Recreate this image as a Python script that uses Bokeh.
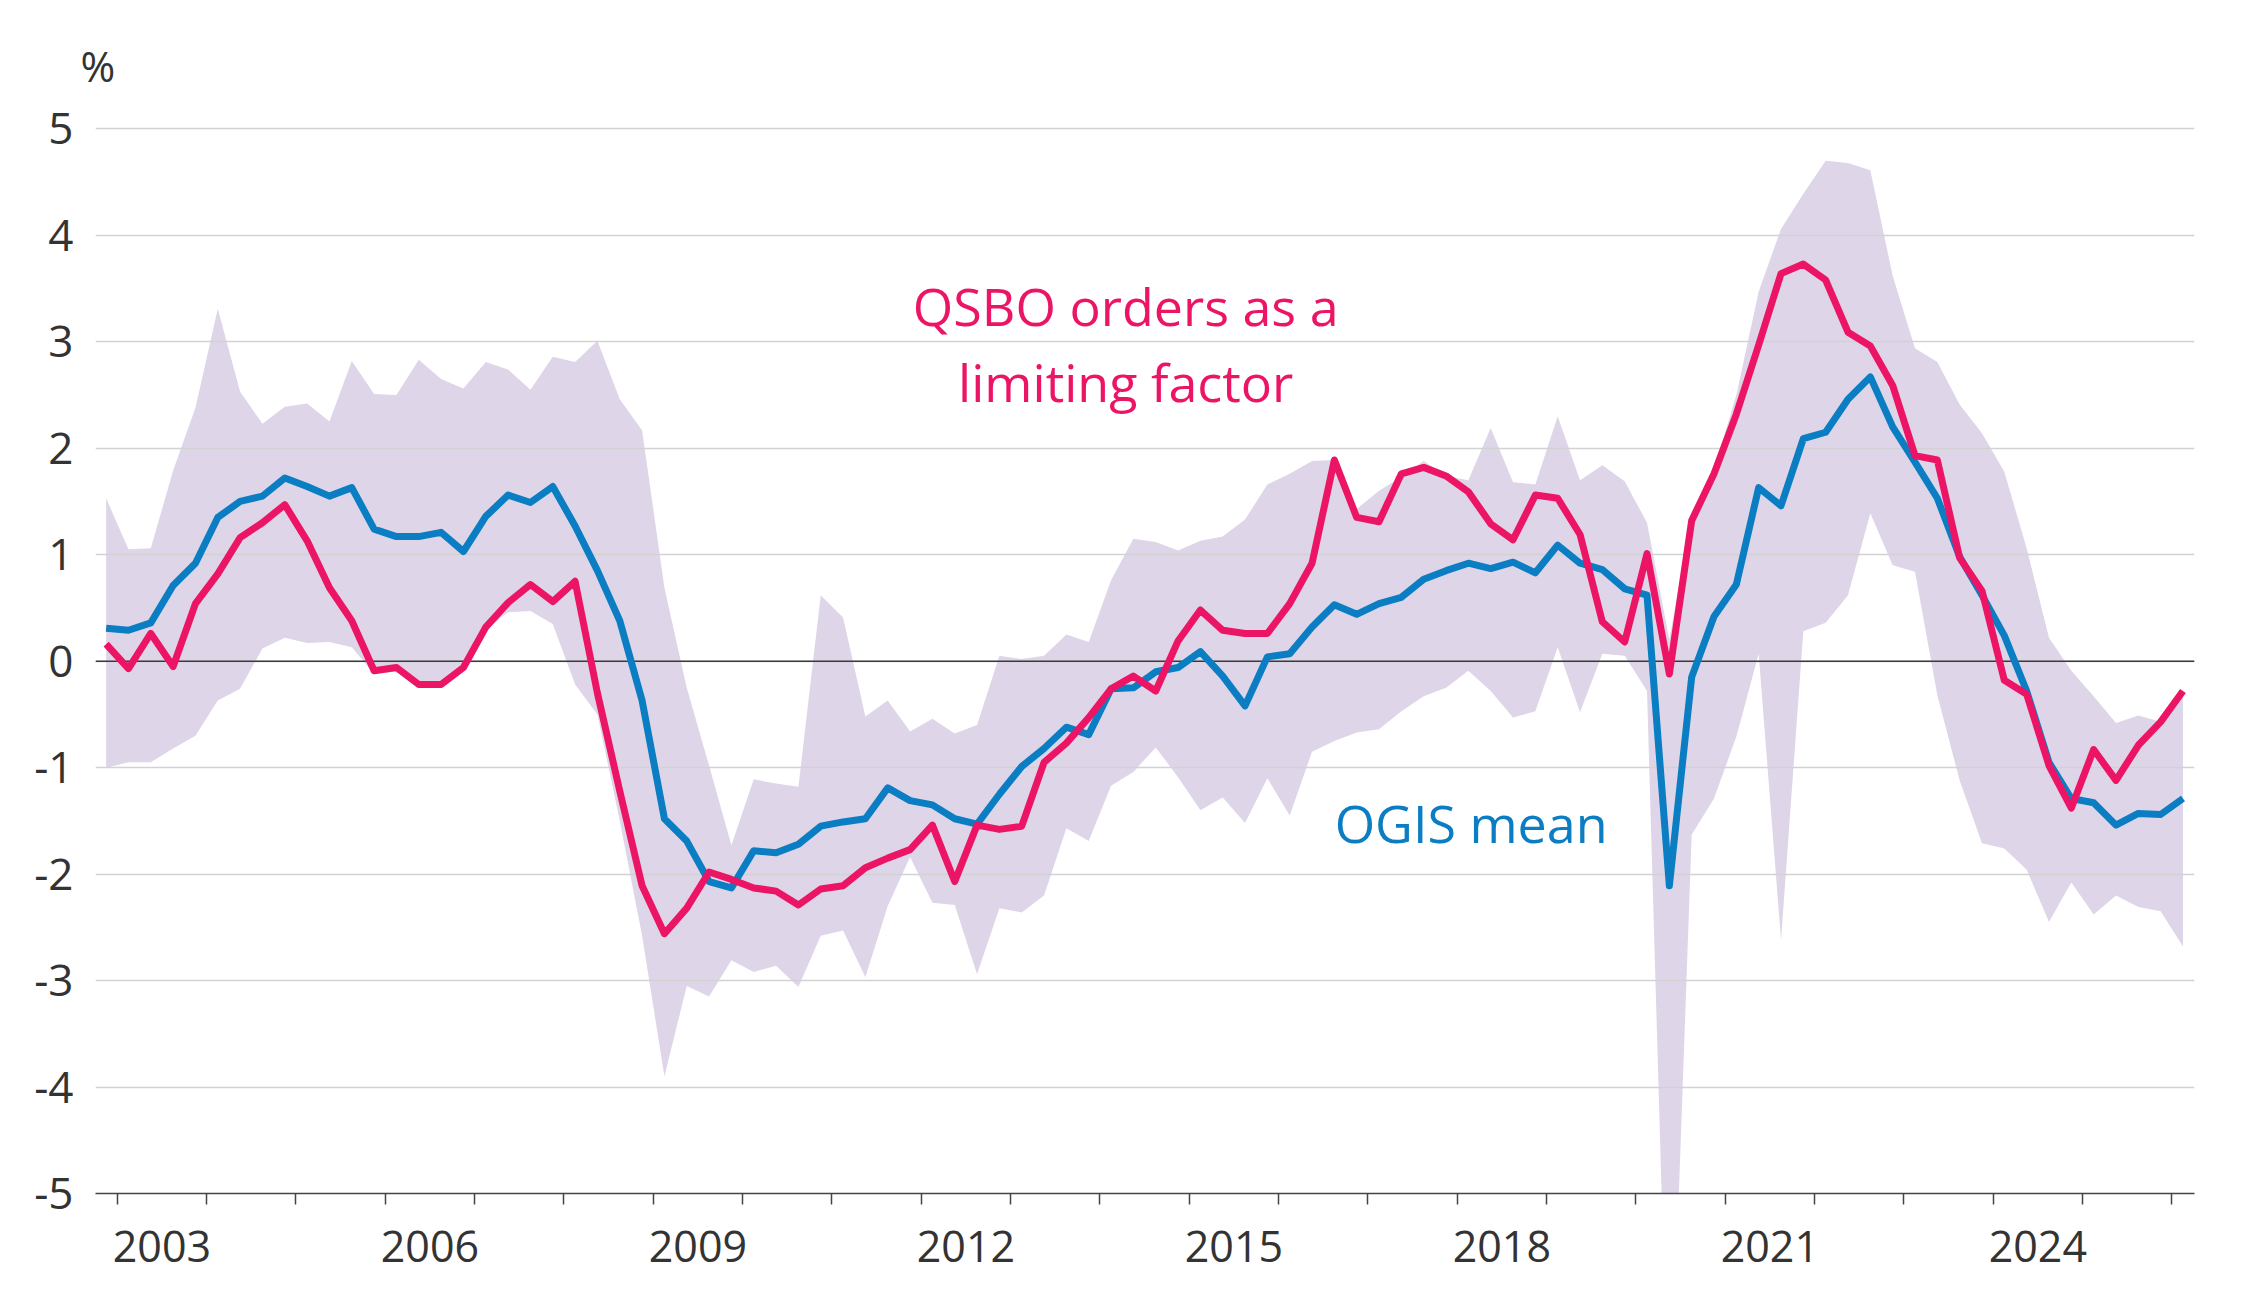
from bokeh.plotting import figure
from bokeh.models import FixedTicker, Range1d, Span
from bokeh.core.properties import value
from bokeh.embed import file_html
from bokeh.resources import INLINE

# Quarterly observations, 2002Q4 .. 2026Q1
quarters = ["2002Q4"] + [f"{y}Q{q}" for y in range(2003, 2026) for q in range(1, 5)] + ["2026Q1"]

band_high = [1.53, 1.05, 1.06, 1.79, 2.38, 3.31, 2.53, 2.23, 2.39, 2.42, 2.25, 2.82, 2.51, 2.50, 2.83, 2.65,
             2.56, 2.81, 2.74, 2.55, 2.86, 2.81, 3.01, 2.46, 2.17, 0.69, -0.25, -0.98, -1.73, -1.11, -1.15, -1.18,
             0.62, 0.41, -0.52, -0.37, -0.66, -0.54, -0.68, -0.60, 0.05, 0.02, 0.05, 0.25, 0.18, 0.76, 1.15, 1.12,
             1.04, 1.13, 1.17, 1.33, 1.66, 1.76, 1.88, 1.89, 1.43, 1.60, 1.73, 1.88, 1.74, 1.70, 2.19, 1.68,
             1.66, 2.30, 1.70, 1.84, 1.69, 1.30, 0.20, 1.40, 1.80, 2.50, 3.47, 4.06, 4.39, 4.70, 4.68, 4.61,
             3.62, 2.94, 2.81, 2.41, 2.14, 1.78, 1.06, 0.22, -0.09, -0.33, -0.58, -0.51, -0.57, -0.29]

band_low = [-1.00, -0.95, -0.95, -0.82, -0.70, -0.37, -0.26, 0.12, 0.22, 0.17, 0.18, 0.13, -0.12, -0.10, -0.25, -0.25,
            -0.08, 0.30, 0.46, 0.47, 0.35, -0.22, -0.50, -1.50, -2.58, -3.90, -3.05, -3.15, -2.81, -2.92, -2.86, -3.06,
            -2.58, -2.53, -2.97, -2.30, -1.84, -2.27, -2.29, -2.94, -2.32, -2.36, -2.20, -1.57, -1.69, -1.17, -1.04, -0.81,
            -1.09, -1.40, -1.28, -1.52, -1.10, -1.45, -0.85, -0.75, -0.67, -0.64, -0.47, -0.33, -0.25, -0.09, -0.28, -0.53,
            -0.47, 0.13, -0.48, 0.07, 0.05, -0.28, -7.50, -1.63, -1.29, -0.71, 0.07, -2.62, 0.28, 0.36, 0.62, 1.39,
            0.90, 0.84, -0.32, -1.12, -1.71, -1.76, -1.96, -2.45, -2.08, -2.38, -2.20, -2.31, -2.35, -2.68]

qsbo = [0.16, -0.07, 0.26, -0.05, 0.54, 0.82, 1.16, 1.30, 1.47, 1.13, 0.69, 0.38, -0.09, -0.06, -0.22, -0.22,
        -0.06, 0.32, 0.55, 0.72, 0.56, 0.75, -0.30, -1.22, -2.11, -2.56, -2.32, -1.98, -2.05, -2.13, -2.16, -2.29,
        -2.14, -2.11, -1.94, -1.85, -1.77, -1.54, -2.07, -1.54, -1.58, -1.55, -0.95, -0.77, -0.53, -0.26, -0.14, -0.28,
        0.19, 0.48, 0.29, 0.26, 0.26, 0.54, 0.92, 1.89, 1.35, 1.31, 1.76, 1.82, 1.74, 1.59, 1.29, 1.14,
        1.56, 1.53, 1.19, 0.37, 0.18, 1.01, -0.12, 1.32, 1.76, 2.32, 2.97, 3.64, 3.73, 3.58, 3.09, 2.96,
        2.59, 1.93, 1.89, 0.97, 0.66, -0.18, -0.31, -0.98, -1.38, -0.83, -1.12, -0.79, -0.57, -0.28]

ogis = [0.31, 0.29, 0.36, 0.71, 0.92, 1.35, 1.50, 1.55, 1.72, 1.64, 1.55, 1.63, 1.24, 1.17, 1.17, 1.21,
        1.03, 1.36, 1.56, 1.49, 1.64, 1.27, 0.85, 0.38, -0.37, -1.48, -1.69, -2.07, -2.13, -1.78, -1.80, -1.72,
        -1.55, -1.51, -1.48, -1.19, -1.31, -1.35, -1.48, -1.53, -1.25, -0.99, -0.82, -0.62, -0.69, -0.26, -0.25, -0.10,
        -0.06, 0.09, -0.14, -0.42, 0.04, 0.07, 0.32, 0.53, 0.44, 0.54, 0.60, 0.77, 0.85, 0.92, 0.87, 0.93,
        0.83, 1.09, 0.92, 0.86, 0.68, 0.62, -2.11, -0.15, 0.42, 0.72, 1.63, 1.46, 2.09, 2.15, 2.46, 2.67,
        2.20, 1.87, 1.53, 0.98, 0.62, 0.24, -0.28, -0.95, -1.29, -1.33, -1.54, -1.43, -1.44, -1.29]

year_ticks = list(range(2003, 2027))
label_years = [2003, 2006, 2009, 2012, 2015, 2018, 2021, 2024]
y_ticks = [-5, -4, -3, -2, -1, 0, 1, 2, 3, 4, 5]

x = [int(q[:4]) + (int(q[-1]) - 0.5) / 4 for q in quarters]

FONT = "Open Sans"
BLUE = "#0A7DC3"
PINK = "#EC1465"
BAND = "#DED6E8"
TXT = "#333333"

p = figure(width=2242, height=1310, output_backend="svg", toolbar_location=None,
           x_range=Range1d(2002.756, 2026.254), y_range=Range1d(-5, 5.05),
           min_border_left=95, min_border_right=48, min_border_top=123, min_border_bottom=117,
           title="%")
p.outline_line_color = None
p.background_fill_color = "white"
p.border_fill_color = "white"

# "%" unit marker as a left-aligned title
p.title.align = "left"
p.title.offset = -15
p.title.standoff = 60
p.title.text_font = FONT
p.title.text_font_size = "42px"
p.title.text_font_style = "normal"
p.title.text_color = TXT

# grid
p.xgrid.visible = False
p.ygrid.ticker = FixedTicker(ticks=[t for t in y_ticks if t != -5])
p.ygrid.grid_line_color = "#d2d2d2"
p.ygrid.grid_line_width = 1.5

# band
p.varea(x=x, y1=band_low, y2=band_high, fill_color=BAND, fill_alpha=1.0, level="image")

zero = Span(location=0, dimension="width", line_color="#3a3a3a", line_width=1.5, level="underlay")
p.add_layout(zero)

p.line(x, ogis, line_color=BLUE, line_width=7, line_join="round")
p.line(x, qsbo, line_color=PINK, line_width=7, line_join="round")

# axes
xa = p.xaxis[0]
xa.ticker = FixedTicker(ticks=[y + 0.5 for y in label_years], minor_ticks=year_ticks)
xa.major_label_overrides = {y + 0.5: str(y) for y in label_years}
xa.major_tick_out = 0
xa.major_tick_in = 0
xa.minor_tick_out = 11
xa.minor_tick_in = 0
xa.minor_tick_line_color = "#444444"
xa.minor_tick_line_width = 1.5
xa.axis_line_color = "#444444"
xa.axis_line_width = 1.5
xa.major_label_text_font = FONT
xa.major_label_text_font_size = "43px"
xa.major_label_text_color = TXT
xa.major_label_standoff = 26

ya = p.yaxis[0]
ya.ticker = FixedTicker(ticks=y_ticks)
ya.major_label_overrides = {t: str(t) for t in y_ticks}
ya.axis_line_color = None
ya.major_tick_line_color = None
ya.minor_tick_line_color = None
ya.major_label_text_font = FONT
ya.major_label_text_font_size = "44px"
ya.major_label_text_color = TXT
ya.major_label_standoff = 16

# annotations
p.text(x=[2014.289, 2014.289], y=[3.344, 2.63], text=["QSBO orders as a", "limiting factor"],
       text_font=value(FONT), text_font_size=value("52px"), text_color=PINK,
       text_align="center", text_baseline="alphabetic")
p.text(x=[2016.628], y=[-1.52], text=["OGIS mean"],
       text_font=value(FONT), text_font_size=value("52px"), text_color=BLUE,
       text_align="left", text_baseline="alphabetic")

open("out.html", "w").write(file_html(p, INLINE))
